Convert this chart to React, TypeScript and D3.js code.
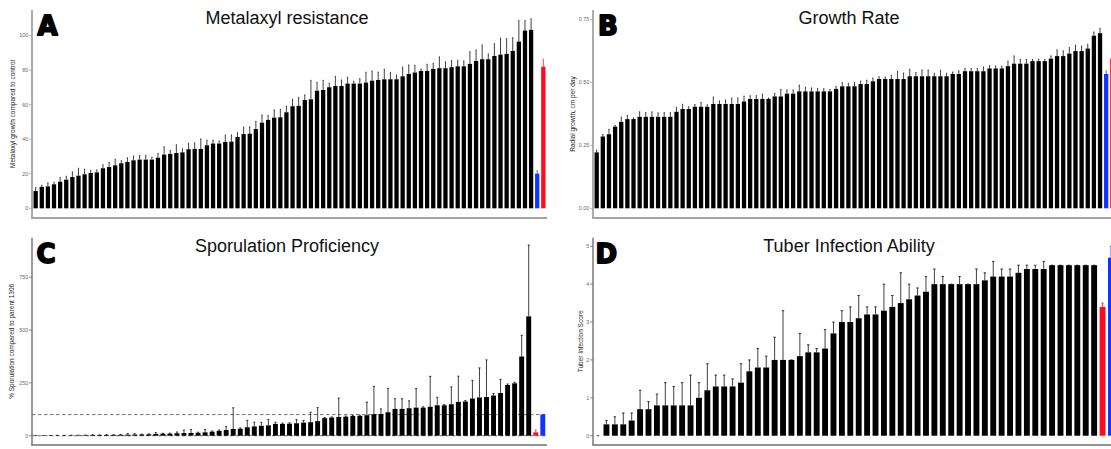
import React from "react";
import * as d3 from "d3";

// ---- Panel A: metalaxyl resistance (% growth vs. control) ----
const metalaxylValues = [
  10.0, 12.4, 12.7, 13.9, 15.4, 16.6, 18.1, 18.9, 19.7, 20.5, 20.8, 23.2, 23.9, 24.9, 26.1, 26.8,
  27.8, 28.2, 28.2, 28.2, 29.3, 31.1, 31.5, 32.0, 32.4, 34.2, 34.4, 34.4, 36.5, 37.5, 37.5, 38.4,
  38.6, 41.3, 43.0, 43.2, 45.9, 49.6, 51.2, 52.5, 52.7, 55.6, 59.1, 59.3, 62.7, 63.1, 68.1, 68.5,
  70.1, 70.8, 70.8, 72.2, 72.2, 72.2, 72.8, 73.9, 74.3, 74.7, 74.7, 74.7, 76.4, 77.8, 78.6, 79.5,
  79.5, 80.7, 81.1, 81.1, 81.7, 82.2, 82.2, 83.6, 85.3, 86.3, 86.3, 88.2, 89.0, 89.4, 91.1, 96.5,
  102.9, 103.3,
];
const metalaxylErrors = [
  2, 1, 2, 1.2, 2.5, 2, 3, 4.3, 3, 1.5, 1.5, 2, 2.8, 3.5, 1.5, 2.5, 2.5, 2.5, 2.5, 1.5, 2.5, 4.6,
  2, 4.8, 2, 3.5, 3.5, 5.8, 3, 2, 1.5, 4, 3.9, 2.5, 4, 4, 4.5, 4.5, 2.5, 4.5, 4.5, 3.5, 4, 5, 3,
  11, 4.8, 5.6, 2.3, 5.6, 3.5, 3.7, 1.4, 2.9, 6, 5.6, 4.6, 5.8, 3.9, 2.5, 5.4, 5.2, 4.2, 1.2, 3.9,
  3.3, 6.6, 3.7, 3.9, 3.5, 3.1, 7.1, 6.4, 8.3, 3.1, 7.1, 9.5, 8.9, 7.7, 12.2, 5.8, 6.4,
];
const metalaxylParentValues = [20.1, 82.0];
const metalaxylParentErrors = [1.7, 4.4];
const metalaxylParentFills = ["#1233ff", "#ff0a1e"];
const metalaxylTicks = [0, 20, 40, 60, 80, 100];

// ---- Panel B: radial growth rate (cm per day) ----
const growthValues = [
  0.222, 0.285, 0.294, 0.324, 0.343, 0.354, 0.354, 0.363, 0.363, 0.363, 0.363, 0.363, 0.363,
  0.383, 0.394, 0.394, 0.403, 0.403, 0.403, 0.414, 0.414, 0.414, 0.414, 0.414, 0.424, 0.434,
  0.434, 0.434, 0.434, 0.444, 0.444, 0.455, 0.455, 0.464, 0.464, 0.464, 0.464, 0.464, 0.464,
  0.474, 0.484, 0.484, 0.484, 0.493, 0.493, 0.504, 0.513, 0.513, 0.513, 0.513, 0.513, 0.524,
  0.524, 0.524, 0.524, 0.524, 0.524, 0.524, 0.533, 0.533, 0.544, 0.544, 0.544, 0.544, 0.555,
  0.555, 0.555, 0.564, 0.574, 0.574, 0.574, 0.584, 0.584, 0.584, 0.594, 0.604, 0.604, 0.614,
  0.624, 0.624, 0.634, 0.685, 0.695,
];
const growthErrors = [
  0.009, 0.008, 0.02, 0.005, 0.019, 0.015, 0.005, 0.02, 0.017, 0.02, 0.016, 0.017, 0.017, 0.017,
  0.019, 0.009, 0.009, 0.017, 0.008, 0.028, 0.012, 0.016, 0.024, 0.024, 0.021, 0.013, 0.013,
  0.019, 0.004, 0.012, 0.028, 0.015, 0.015, 0.025, 0.016, 0.014, 0.012, 0.011, 0.007, 0.01,
  0.015, 0.012, 0.015, 0.012, 0.016, 0.013, 0.009, 0.008, 0.015, 0.03, 0.024, 0.028, 0.015,
  0.025, 0.025, 0.012, 0.024, 0.012, 0.008, 0.013, 0.011, 0.011, 0.011, 0.017, 0.011, 0.01,
  0.009, 0.02, 0.031, 0.017, 0.017, 0.007, 0.008, 0.007, 0.011, 0.025, 0.021, 0.024, 0.024,
  0.02, 0.017, 0.015, 0.019,
];
const growthParentValues = [0.533, 0.594];
const growthParentErrors = [0.013, 0];
const growthParentFills = ["#1233ff", "#ff0a1e"];
const growthTicks = [0, 0.25, 0.5, 0.75];

// ---- Panel C: sporulation (% of parent 1306) ----
const sporulationValues = [
  0.5, 0.6, 0.8, 1.0, 1.2, 1.5, 1.8, 2.2, 3.0, 3.2, 3.5, 3.8, 4.2, 5.0, 5.5, 6.0, 6.5, 8.5, 9.5,
  10, 11.5, 12.5, 13, 13.5, 16, 19, 23, 27, 32, 33, 40, 44, 47, 49, 56, 56, 57, 59, 62, 64, 69,
  83, 86, 89, 90, 93, 94, 97, 102, 103, 111, 127, 127, 130, 133, 133, 137, 144, 144, 149, 160,
  162, 176, 181, 183, 190, 202, 240, 248, 375, 565,
];
const sporulationErrors = [
  0.5, 0.3, 0.5, 0.8, 0.5, 1, 0.8, 1, 2, 1, 1.5, 1, 2, 5, 4, 1.5, 2, 6, 2, 2, 6, 14, 16, 3, 13,
  3, 4, 16, 100, 4, 33, 20, 16, 28, 8, 4, 4, 17, 10, 47, 64, 3, 3, 89, 3, 3, 3, 62, 132, 24, 113,
  48, 48, 35, 90, 4, 144, 38, 4, 82, 122, 5, 86, 140, 176, 10, 65, 5, 5, 100, 338,
];
const sporulationParentValues = [16, 100];
const sporulationParentErrors = [10, 0];
const sporulationParentFills = ["#ff0a1e", "#1233ff"];
const sporulationTicks = [0, 250, 500, 750];
const sporulationRefLines = [0, 100];

// ---- Panel D: tuber infection score ----
const tuberValues = [
  0, 0.3, 0.3, 0.3, 0.4, 0.7, 0.7, 0.8, 0.8, 0.8, 0.8, 0.8, 1.0, 1.2, 1.3, 1.3, 1.3, 1.4, 1.7,
  1.8, 1.8, 2.0, 2.0, 2.0, 2.1, 2.2, 2.2, 2.3, 2.7, 3.0, 3.0, 3.1, 3.2, 3.2, 3.3, 3.4, 3.5, 3.6,
  3.7, 3.8, 4.0, 4.0, 4.0, 4.0, 4.0, 4.0, 4.1, 4.2, 4.2, 4.2, 4.3, 4.4, 4.4, 4.4, 4.5, 4.5, 4.5,
  4.5, 4.5, 4.5,
];
const tuberErrors = [
  0, 0.1, 0.2, 0.3, 0.2, 0.5, 0.2, 0.3, 0.6, 0.5, 0.6, 0.8, 0.4, 0.7, 0.3, 0.3, 0.2, 0.5, 0.3,
  0.5, 0.3, 0.6, 1.3, 0, 0.6, 0.2, 0.1, 0.5, 0.3, 0.3, 0.4, 0.6, 0.2, 0.2, 0.7, 0.3, 0.8, 0.4,
  0.2, 0.4, 0.4, 0.2, 0, 0.2, 0, 0.4, 0.2, 0.4, 0.2, 0.2, 0.2, 0.1, 0.1, 0.2, 0, 0, 0, 0, 0, 0,
];
const tuberParentValues = [3.4, 4.7];
const tuberParentErrors = [0.1, 0.3];
const tuberParentFills = ["#ff0a1e", "#1233ff"];
const tuberTicks = [0, 1, 2, 3, 4, 5];

type Bar = { id: string; value: number; err: number; fill: string };

function buildBars(
  values: number[],
  errors: number[],
  parentValues: number[],
  parentErrors: number[],
  parentFills: string[]
): Bar[] {
  const isolates = values.map((v, i) => ({ id: `iso${i}`, value: v, err: errors[i] ?? 0, fill: "#000" }));
  const parents = parentValues.map((v, i) => ({
    id: `parent${i}`,
    value: v,
    err: parentErrors[i],
    fill: parentFills[i],
  }));
  return [...isolates, ...parents];
}

type PanelSpec = {
  letter: string;
  title: string;
  yLabel: string;
  bars: Bar[];
  ticks: number[];
  tickFormat: (v: number) => string;
  yDomain: [number, number];
  left: number;
  right: number;
  top: number;
  bottom: number;
  titleX: number;
  titleY: number;
  letterX: number;
  letterY: number;
  yLabelX: number;
  axisColor: string;
  axisWidth: number;
  capFrac: number;
  refLines?: number[];
};

const FONT = '"Liberation Sans", Arial, Helvetica, sans-serif';

function Panel({ spec }: { spec: PanelSpec }) {
  const x = d3
    .scaleBand<string>()
    .domain(spec.bars.map((b) => b.id))
    .range([spec.left, spec.right])
    .paddingInner(0.3)
    .paddingOuter(0.25);
  const y = d3.scaleLinear().domain(spec.yDomain).range([spec.bottom, spec.top]);
  const bw = x.bandwidth();
  const capW = x.step() * spec.capFrac;
  const y0 = y(0);

  return (
    <g>
      {spec.refLines?.map((r) => (
        <line
          key={`ref${r}`}
          x1={spec.left}
          x2={spec.right}
          y1={y(r)}
          y2={y(r)}
          stroke="#4d4d4d"
          strokeWidth={0.8}
          strokeDasharray="3.5,2.5"
        />
      ))}
      {spec.bars.map((b) => {
        const xl = x(b.id)!;
        const cx = xl + bw / 2;
        const yt = y(b.value);
        const ye = y(b.value + b.err);
        return (
          <g key={b.id}>
            <rect x={xl} y={yt} width={bw} height={Math.max(0, y0 - yt)} fill={b.fill} />
            <line x1={cx} x2={cx} y1={yt} y2={ye} stroke={b.fill} strokeWidth={0.75} />
            <line x1={cx - capW / 2} x2={cx + capW / 2} y1={ye} y2={ye} stroke={b.fill} strokeWidth={0.75} />
          </g>
        );
      })}
      {/* axes */}
      <line
        x1={spec.left}
        x2={spec.left}
        y1={spec.top}
        y2={spec.bottom}
        stroke={spec.axisColor}
        strokeWidth={spec.axisWidth}
      />
      <line
        x1={spec.left - spec.axisWidth / 2}
        x2={spec.right}
        y1={spec.bottom}
        y2={spec.bottom}
        stroke={spec.axisColor}
        strokeWidth={spec.axisWidth}
      />
      {spec.ticks.map((t) => (
        <g key={`t${t}`}>
          <line
            x1={spec.left - 3}
            x2={spec.left}
            y1={y(t)}
            y2={y(t)}
            stroke={spec.axisColor}
            strokeWidth={0.8}
          />
          <text
            x={spec.left - 3.8}
            y={y(t)}
            dy="0.35em"
            textAnchor="end"
            fontSize={5.4}
            fill="#6a6a6a"
            fontFamily={FONT}
          >
            {spec.tickFormat(t)}
          </text>
        </g>
      ))}
      <text
        transform={`translate(${spec.yLabelX},${(spec.top + spec.bottom) / 2}) rotate(-90)`}
        textAnchor="middle"
        fontSize={6.5}
        fill="#262626"
        fontFamily={FONT}
      >
        {spec.yLabel}
      </text>
      <text x={spec.titleX} y={spec.titleY} textAnchor="middle" fontSize={18} fill="#111" fontFamily={FONT}>
        {spec.title}
      </text>
      <text
        x={spec.letterX}
        y={spec.letterY}
        fontSize={26}
        fontWeight="bold"
        fontFamily='"DejaVu Sans", Arial, sans-serif'
        fill="#000"
        stroke="#000"
        strokeWidth={1.8}
        strokeLinejoin="round"
      >
        {spec.letter}
      </text>
    </g>
  );
}

const panels: PanelSpec[] = [
  {
    letter: "A",
    title: "Metalaxyl resistance",
    yLabel: "Metalaxyl growth compared to control",
    bars: buildBars(metalaxylValues, metalaxylErrors, metalaxylParentValues, metalaxylParentErrors, metalaxylParentFills),
    ticks: metalaxylTicks,
    tickFormat: (v) => d3.format("d")(v),
    yDomain: [-5.6, 114.8],
    left: 32,
    right: 547,
    top: 10,
    bottom: 218,
    titleX: 287,
    titleY: 23.5,
    letterX: 37.5,
    letterY: 35,
    yLabelX: 14.8,
    axisColor: "#a3a3a3",
    axisWidth: 1.8,
    capFrac: 0.15,
  },
  {
    letter: "B",
    title: "Growth Rate",
    yLabel: "Radial growth, cm per day",
    bars: buildBars(growthValues, growthErrors, growthParentValues, growthParentErrors, growthParentFills),
    ticks: growthTicks,
    tickFormat: (v) => d3.format(".2f")(v),
    yDomain: [-0.0385, 0.787],
    left: 593,
    right: 1116,
    top: 10,
    bottom: 218,
    titleX: 849,
    titleY: 23.5,
    letterX: 598,
    letterY: 35,
    yLabelX: 574.5,
    axisColor: "#a3a3a3",
    axisWidth: 1.8,
    capFrac: 0.15,
  },
  {
    letter: "C",
    title: "Sporulation Proficiency",
    yLabel: "% Sporulation compared to parent 1306",
    bars: buildBars(
      sporulationValues,
      sporulationErrors,
      sporulationParentValues,
      sporulationParentErrors,
      sporulationParentFills
    ),
    ticks: sporulationTicks,
    tickFormat: (v) => d3.format("d")(v),
    yDomain: [-44, 937.5],
    left: 32,
    right: 547,
    top: 237.7,
    bottom: 445,
    titleX: 287,
    titleY: 252,
    letterX: 36.5,
    letterY: 263.3,
    yLabelX: 14.3,
    axisColor: "#707070",
    axisWidth: 1.4,
    capFrac: 0.3,
    refLines: sporulationRefLines,
  },
  {
    letter: "D",
    title: "Tuber Infection Ability",
    yLabel: "Tuber Infection Score",
    bars: buildBars(tuberValues, tuberErrors, tuberParentValues, tuberParentErrors, tuberParentFills),
    ticks: tuberTicks,
    tickFormat: (v) => d3.format("d")(v),
    yDomain: [-0.245, 5.226],
    left: 593,
    right: 1116,
    top: 237.7,
    bottom: 445,
    titleX: 849,
    titleY: 252,
    letterX: 595.5,
    letterY: 263.3,
    yLabelX: 583,
    axisColor: "#707070",
    axisWidth: 1.4,
    capFrac: 0.3,
  },
];

export default function App() {
  return (
    <svg
      width={1111}
      height={449}
      viewBox="0 0 1111 449"
      style={{ position: "absolute", left: 0, top: 0, background: "#fff" }}
    >
      <rect x={0} y={0} width={1111} height={449} fill="#fff" />
      {panels.map((p) => (
        <Panel key={p.letter} spec={p} />
      ))}
    </svg>
  );
}
